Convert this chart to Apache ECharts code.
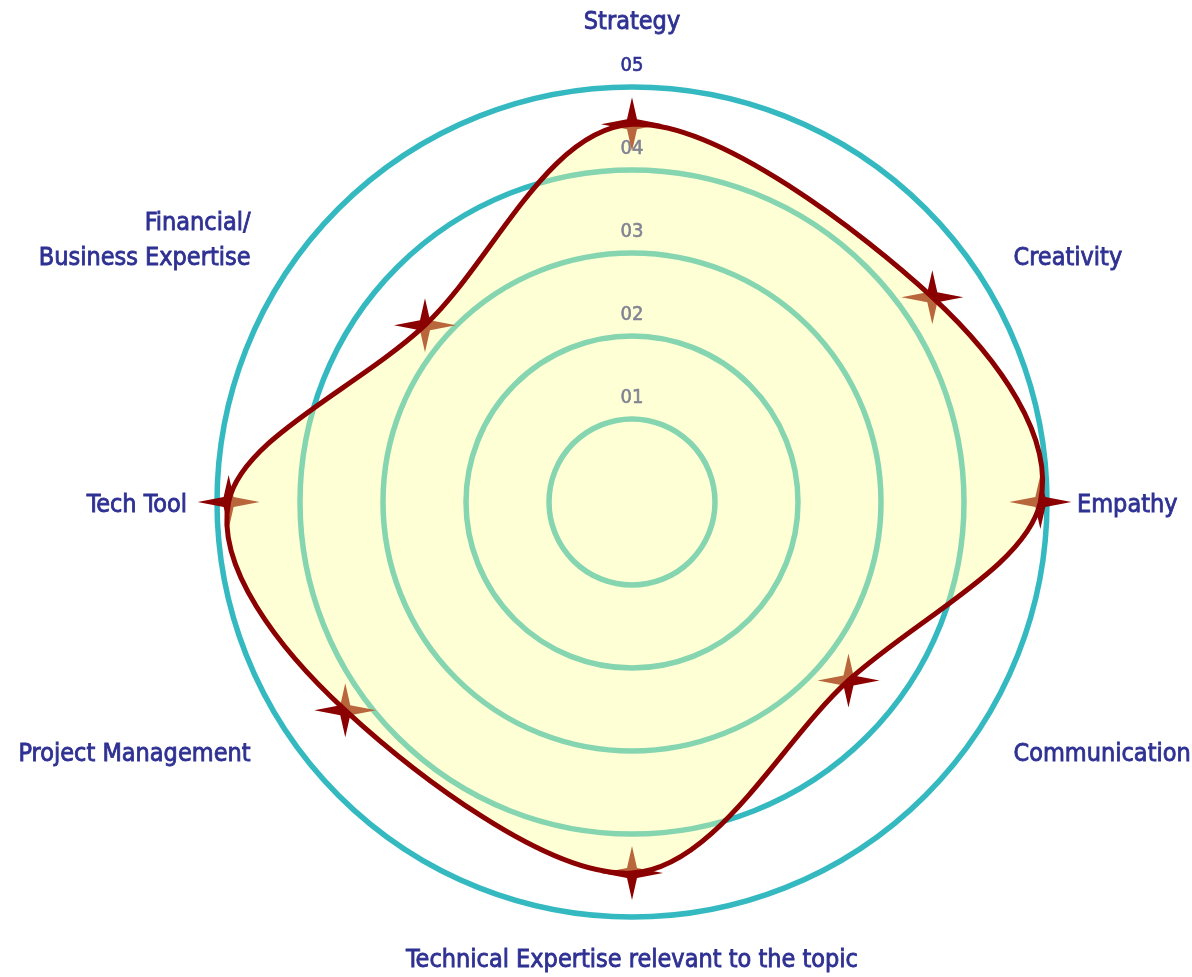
<!DOCTYPE html>
<html>
<head>
<meta charset="utf-8">
<title>Skills profile</title>
<script src="https://cdn.jsdelivr.net/npm/echarts@6/dist/echarts.min.js"></script>
<style>
  html, body { margin: 0; padding: 0; background: #ffffff; }
  #chart { width: 1192px; height: 977px; }
</style>
</head>
<body>
<div id="chart"></div>
<script>
// Skill names, in clockwise order starting from the top
const categories = [
  'Strategy',
  'Creativity',
  'Empathy',
  'Communication',
  'Technical Expertise relevant to the topic',
  'Project Management',
  'Tech Tool',
  'Financial/\nBusiness Expertise'
];
// Score per skill (0 - 5)
const scores = [4.55, 4.38, 4.92, 3.38, 4.47, 4.27, 4.86, 3.28];
// Direction of each score point, degrees clockwise from the top
const pointAngles = [0, 55.7, 90, 129.5, 180, 234, 270, 310.5];
// Direction of each skill name, degrees clockwise from the top
const nameAngles = [0, 59, 90, 121, 180, 239, 270, 301];
// Ring labels for scores 1..5
const tickLabels = ['01', '02', '03', '04', '05'];

const NAVY = '#2e3192';
const RING = '#35b9c1';
const DARK_RED = '#8b0000';
const FONT = "'DejaVu Sans Condensed', 'Liberation Sans Narrow', sans-serif";
const STAR = 'path://M0,-27L5,-5L31,0L5,5L0,27L-5,5L-31,0L-5,-5Z';

// Closed Catmull-Rom curve through the given pixel points
function closedCurve(pts) {
  const n = pts.length, k = 1 / 6;
  let d = 'M' + pts[0][0] + ',' + pts[0][1];
  for (let i = 0; i < n; i++) {
    const p0 = pts[(i - 1 + n) % n], p1 = pts[i], p2 = pts[(i + 1) % n], p3 = pts[(i + 2) % n];
    const c1 = [p1[0] + (p2[0] - p0[0]) * k, p1[1] + (p2[1] - p0[1]) * k];
    const c2 = [p2[0] - (p3[0] - p1[0]) * k, p2[1] - (p3[1] - p1[1]) * k];
    d += 'C' + c1[0] + ',' + c1[1] + ',' + c2[0] + ',' + c2[1] + ',' + p2[0] + ',' + p2[1];
  }
  return d + 'Z';
}

const points = scores.map((v, i) => [v, pointAngles[i]]);

const chart = echarts.init(document.getElementById('chart'), null, { renderer: 'canvas' });

chart.setOption({
  backgroundColor: '#ffffff',
  animation: false,
  polar: { center: [632, 502], radius: 415 },
  angleAxis: {
    type: 'value', min: 0, max: 360, startAngle: 90, clockwise: true,
    axisLine: { show: false }, axisTick: { show: false },
    axisLabel: { show: false }, splitLine: { show: false }
  },
  radiusAxis: {
    type: 'value', min: 0, max: 5, interval: 1,
    axisLine: { show: false }, axisTick: { show: false },
    splitLine: { show: true, lineStyle: { color: RING, width: 5.5 } },
    axisLabel: {
      showMinLabel: false,
      formatter: v => tickLabels[v - 1] || '',
      color: NAVY, fontSize: 20, fontFamily: FONT,
      textBorderColor: NAVY, textBorderWidth: 0.6,
      align: 'center', verticalAlign: 'bottom',
      lineHeight: 42, margin: 0
    }
  },
  series: [
    {
      // star markers, laid under the translucent fill
      type: 'scatter',
      coordinateSystem: 'polar',
      data: points,
      symbol: STAR,
      symbolSize: [62, 54],
      itemStyle: { color: DARK_RED, opacity: 1 },
      z: 2,
      silent: true
    },
    {
      // smooth closed outline with its fill
      type: 'custom',
      coordinateSystem: 'polar',
      data: points,
      z: 3,
      silent: true,
      renderItem: function (params, api) {
        if (params.dataIndex !== 0) return null;
        const pts = points.map(p => api.coord(p));
        const d = closedCurve(pts);
        return {
          type: 'group',
          children: [
            { type: 'path', shape: { pathData: d },
              style: { fill: 'rgba(255,255,150,0.4)', stroke: null } },
            { type: 'path', shape: { pathData: d },
              style: { fill: null, stroke: DARK_RED, lineWidth: 5, lineJoin: 'round' } }
          ]
        };
      }
    }
  ]
});

// Skill names around the outer ring
const GAP = 30, TOP_EXTRA = 20, BOTTOM_GAP = 23;
const names = categories.map((name, i) => {
  const a = nameAngles[i];
  const c = chart.convertToPixel({ polarIndex: 0 }, [0, a]);
  const e = chart.convertToPixel({ polarIndex: 0 }, [5, a]);
  const len = Math.hypot(e[0] - c[0], e[1] - c[1]);
  const ux = (e[0] - c[0]) / len, uy = (e[1] - c[1]) / len;
  const vertical = Math.abs(ux) < 0.01;
  const gap = vertical ? (uy < 0 ? GAP + TOP_EXTRA : BOTTOM_GAP) : GAP;
  const x = e[0] + ux * gap;
  // small baseline nudge so glyphs sit centred on their anchor
  const y = e[1] + uy * gap + 3 + (!vertical && uy > 0.01 ? 3 : 0);
  const align = ux > 0.01 ? 'left' : (ux < -0.01 ? 'right' : 'center');
  const verticalAlign = Math.abs(uy) < 0.01 ? 'middle' : (uy < 0 ? 'bottom' : 'top');
  return {
    type: 'text', x: x, y: y, silent: true,
    style: {
      text: name, fill: NAVY, fontSize: 25, fontFamily: FONT,
      stroke: NAVY, lineWidth: 0.8,
      lineHeight: 35, align: align, verticalAlign: verticalAlign
    }
  };
});
chart.setOption({ graphic: names });
</script>
</body>
</html>
